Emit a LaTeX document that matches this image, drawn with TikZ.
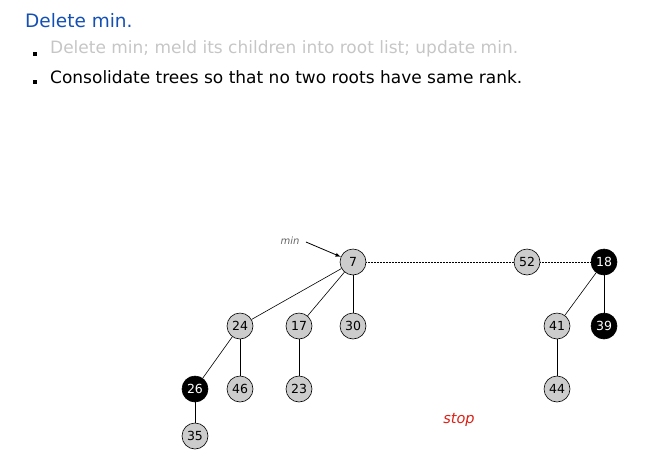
\documentclass[tikz,border=0pt]{standalone}
\usepackage{fontspec}
\setmainfont{DejaVu Sans}
\begin{document}
\begin{tikzpicture}[x=1pt,y=-1pt,
  heapnode/.style={circle,draw=black,fill=gray!40,line width=0.6pt,minimum size=26pt,inner sep=0pt,font=\fontsize{12.5}{13}\selectfont},
  marked/.style={heapnode,fill=black,text=white},
  edge/.style={line width=0.6pt},
  rootlink/.style={line width=0.4pt,dash pattern=on 1pt off 0.5pt}]
\useasboundingbox (0,0) rectangle (653,464);
\definecolor{titleblue}{RGB}{20,80,180}
\definecolor{stopred}{RGB}{220,30,20}
\node[anchor=west,text=titleblue,font=\fontsize{18.5}{20}\selectfont,inner sep=0pt] (title) at (25,21) {Delete min.};
\node[anchor=west,text=gray!45,font=\fontsize{17}{19}\selectfont,inner sep=0pt] (b1) at (50,49) {Delete min; meld its children into root list; update min.};
\node[anchor=west,font=\fontsize{17}{19}\selectfont,inner sep=0pt] (b2) at (50,77) {Consolidate trees so that no two roots have same rank.};
\fill[black] (33,52) rectangle (37,56);
\fill[black] (33,80) rectangle (37,84);
\node[heapnode] (n7) at (353,262) {7};
\node[heapnode] (n52) at (527,262) {52};
\node[marked] (n18) at (604,262) {18};
\node[heapnode] (n24) at (240,326) {24};
\node[heapnode] (n17) at (299,326) {17};
\node[heapnode] (n30) at (353,326) {30};
\node[heapnode] (n41) at (557,326) {41};
\node[marked] (n39) at (604,326) {39};
\node[marked] (n26) at (195,389) {26};
\node[heapnode] (n46) at (240,389) {46};
\node[heapnode] (n23) at (299,389) {23};
\node[heapnode] (n44) at (557,389) {44};
\node[heapnode] (n35) at (195,436) {35};
\draw[rootlink] (n7) -- (n52);
\draw[rootlink] (n52) -- (n18);
\draw[edge] (n7) -- (n24);
\draw[edge] (n7) -- (n17);
\draw[edge] (n7) -- (n30);
\draw[edge] (n24) -- (n26);
\draw[edge] (n24) -- (n46);
\draw[edge] (n17) -- (n23);
\draw[edge] (n26) -- (n35);
\draw[edge] (n18) -- (n41);
\draw[edge] (n18) -- (n39);
\draw[edge] (n41) -- (n44);
\node[font=\itshape\fontsize{10}{11}\selectfont,text=gray!80!black] (minlabel) at (290,241) {min};
\draw[line width=0.8pt,-latex] (minlabel.east) ++(3,1) coordinate (ma) -- (n7);
\node[font=\itshape\fontsize{14.5}{16}\selectfont,text=stopred] (stop) at (459,420) {stop};
\end{tikzpicture}
\end{document}
